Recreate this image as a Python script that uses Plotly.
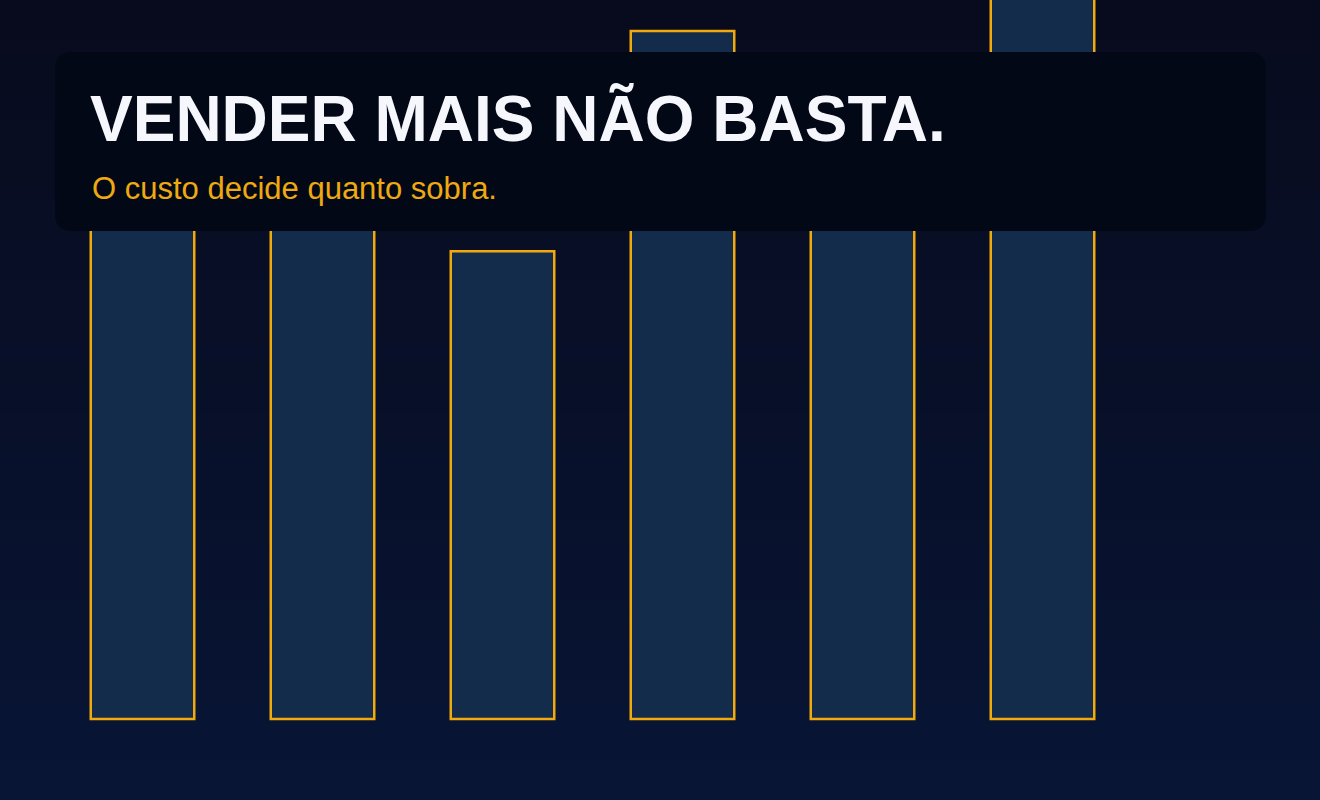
import plotly.graph_objects as go

# ---- data ----
categories = ["A", "B", "C", "D", "E", "F"]
values = [110, 105, 85, 125, 115, 140]

title_text = "VENDER MAIS NÃO BASTA."
subtitle_text = "O custo decide quanto sobra."

W, H = 1320, 800

def px(x):
    return x / W

def py(y):
    return 1 - y / H

def hex2rgb(h):
    h = h.lstrip("#")
    return tuple(int(h[i:i + 2], 16) for i in (0, 2, 4))

top_c = hex2rgb("#080b1d")
bot_c = hex2rgb("#081535")

shapes = []
N = 60
for i in range(N):
    t = i / (N - 1)
    c = tuple(round(top_c[k] + (bot_c[k] - top_c[k]) * t) for k in range(3))
    shapes.append(dict(
        type="rect", xref="paper", yref="paper",
        x0=0, x1=1, y0=1 - (i + 1) / N - 0.001, y1=1 - i / N + 0.001,
        fillcolor="rgb(%d,%d,%d)" % c, line=dict(width=0), layer="below",
    ))

# rounded title card
x0, x1, y0, y1, r = 55, 1266, 52, 231, 17
path = (
    f"M {px(x0 + r)} {py(y0)} L {px(x1 - r)} {py(y0)} "
    f"Q {px(x1)} {py(y0)} {px(x1)} {py(y0 + r)} "
    f"L {px(x1)} {py(y1 - r)} "
    f"Q {px(x1)} {py(y1)} {px(x1 - r)} {py(y1)} "
    f"L {px(x0 + r)} {py(y1)} "
    f"Q {px(x0)} {py(y1)} {px(x0)} {py(y1 - r)} "
    f"L {px(x0)} {py(y0 + r)} "
    f"Q {px(x0)} {py(y0)} {px(x0 + r)} {py(y0)} Z"
)
shapes.append(dict(type="path", xref="paper", yref="paper", path=path,
                   fillcolor="#030817", line=dict(width=0), layer="above"))

fig = go.Figure()
fig.add_trace(go.Bar(
    x=list(range(len(categories))), y=values,
    marker=dict(color="#132c4c", line=dict(color="#f2a90c", width=2.5)),
    hoverinfo="skip",
))

scale = 688 / 125.0  # px per unit
fig.update_layout(
    width=W, height=H,
    margin=dict(l=0, r=0, t=0, b=0),
    paper_bgcolor="#080f28", plot_bgcolor="rgba(0,0,0,0)",
    bargap=0.425,
    showlegend=False,
    xaxis=dict(range=[-0.5 - 52.5 / 180, 6.5 + 7.5 / 180], visible=False, fixedrange=True),
    yaxis=dict(range=[-81 / scale, 719 / scale], visible=False, fixedrange=True),
    shapes=shapes,
    annotations=[
        dict(text="<b>" + title_text + "</b>", xref="paper", yref="paper",
             x=px(88), y=py(119), xanchor="left", yanchor="middle", showarrow=False,
             font=dict(family="Liberation Sans, Arial, sans-serif", size=64, color="#f5f7fc")),
        dict(text=subtitle_text, xref="paper", yref="paper",
             x=px(90), y=py(189), xanchor="left", yanchor="middle", showarrow=False,
             font=dict(family="Liberation Sans, Arial, sans-serif", size=31, color="#eeaa10")),
    ],
)

fig.write_html(
    "out.html",
    config={"displayModeBar": False},
    post_script="document.body.style.margin='0';document.body.style.overflow='hidden';",
)
